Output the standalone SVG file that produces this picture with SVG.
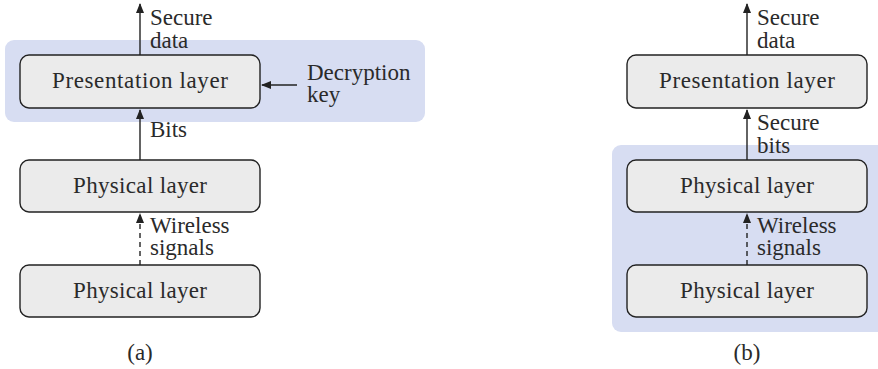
<svg xmlns="http://www.w3.org/2000/svg" width="878" height="369" viewBox="0 0 878 369">
<style>
.box{fill:#ebebeb;stroke:#222;stroke-width:1.4}
.hl{fill:#d7ddf2}
.c{text-anchor:middle}
.ln{stroke:#222;stroke-width:1.4;fill:none}
.dash{stroke-dasharray:5,4}
</style>
<defs>
<marker id="ah" viewBox="0 0 10 10" refX="9" refY="5" markerWidth="10" markerHeight="10" markerUnits="userSpaceOnUse" orient="auto">
<path d="M0,1 L10,5 L0,9 Z" fill="#222"/>
</marker>
</defs>
<rect class="hl" x="5" y="40" width="420" height="82" rx="9"/>
<rect class="hl" x="612" y="145" width="275" height="187" rx="9"/>
<g id="connectors">
<line class="ln" x1="140" y1="55" x2="140" y2="4" marker-end="url(#ah)"/>
<line class="ln" x1="297" y1="85" x2="262" y2="85" marker-end="url(#ah)"/>
<line class="ln" x1="140" y1="160" x2="140" y2="110" marker-end="url(#ah)"/>
<line class="ln dash" x1="140" y1="265" x2="140" y2="214" marker-end="url(#ah)"/>
<line class="ln" x1="747" y1="55" x2="747" y2="4" marker-end="url(#ah)"/>
<line class="ln" x1="747" y1="160" x2="747" y2="110" marker-end="url(#ah)"/>
<line class="ln dash" x1="747" y1="265" x2="747" y2="214" marker-end="url(#ah)"/>
</g>
<g id="a-presentation"><rect class="box" x="20" y="55" width="240" height="53" rx="9"/><text font-family="Liberation Serif" font-size="23" fill="#2a2a2a" class="c" x="140" y="88" textLength="176">Presentation layer</text></g>
<g id="a-physical1"><rect class="box" x="20" y="160" width="240" height="52" rx="9"/><text font-family="Liberation Serif" font-size="23" fill="#2a2a2a" class="c" x="140" y="193" textLength="134">Physical layer</text></g>
<g id="a-physical2"><rect class="box" x="20" y="265" width="240" height="52" rx="9"/><text font-family="Liberation Serif" font-size="23" fill="#2a2a2a" class="c" x="140" y="298" textLength="134">Physical layer</text></g>
<g id="b-presentation"><rect class="box" x="627" y="55" width="240" height="53" rx="9"/><text font-family="Liberation Serif" font-size="23" fill="#2a2a2a" class="c" x="747" y="88" textLength="176">Presentation layer</text></g>
<g id="b-physical1"><rect class="box" x="627" y="160" width="240" height="52" rx="9"/><text font-family="Liberation Serif" font-size="23" fill="#2a2a2a" class="c" x="747" y="193" textLength="134">Physical layer</text></g>
<g id="b-physical2"><rect class="box" x="627" y="265" width="240" height="52" rx="9"/><text font-family="Liberation Serif" font-size="23" fill="#2a2a2a" class="c" x="747" y="298" textLength="134">Physical layer</text></g>
<g id="labels">
<text font-family="Liberation Serif" font-size="23" fill="#2a2a2a" x="150" y="25">Secure<tspan x="150" y="48">data</tspan></text>
<text font-family="Liberation Serif" font-size="23" fill="#2a2a2a" x="307" y="80">Decryption<tspan x="307" y="102">key</tspan></text>
<text font-family="Liberation Serif" font-size="23" fill="#2a2a2a" x="150" y="137">Bits</text>
<text font-family="Liberation Serif" font-size="23" fill="#2a2a2a" x="150" y="233">Wireless<tspan x="150" y="255">signals</tspan></text>
<text font-family="Liberation Serif" font-size="23" fill="#2a2a2a" x="757" y="25">Secure<tspan x="757" y="48">data</tspan></text>
<text font-family="Liberation Serif" font-size="23" fill="#2a2a2a" x="757" y="130">Secure<tspan x="757" y="153">bits</tspan></text>
<text font-family="Liberation Serif" font-size="23" fill="#2a2a2a" x="757" y="233">Wireless<tspan x="757" y="255">signals</tspan></text>
<text font-family="Liberation Serif" font-size="23" fill="#2a2a2a" class="c" x="140" y="360">(a)</text>
<text font-family="Liberation Serif" font-size="23" fill="#2a2a2a" class="c" x="747" y="360">(b)</text>
</g>
</svg>
